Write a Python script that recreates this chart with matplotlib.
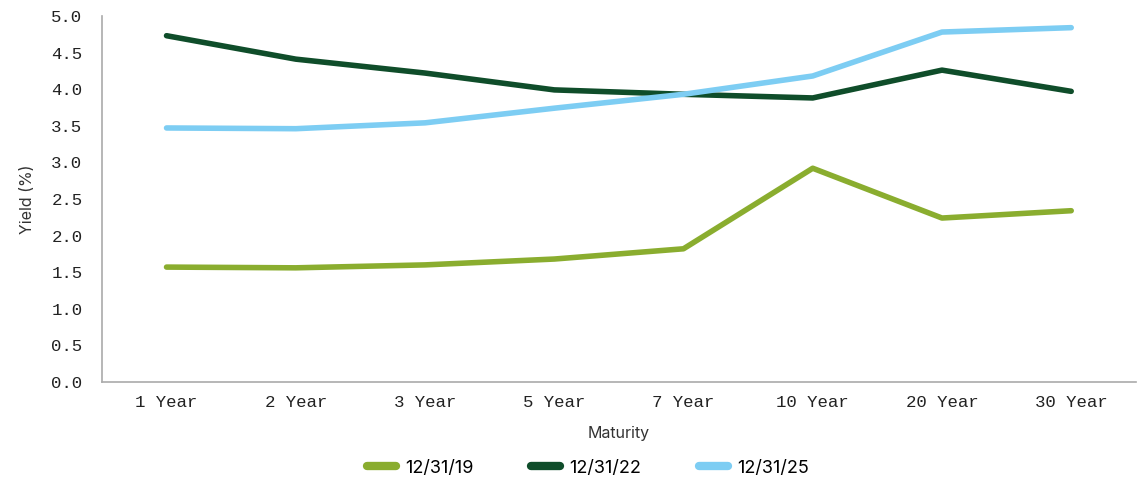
import matplotlib
matplotlib.use('Agg')
import matplotlib.pyplot as plt

maturities = ["1 Year", "2 Year", "3 Year", "5 Year", "7 Year", "10 Year", "20 Year", "30 Year"]
yield_2019 = [1.57, 1.56, 1.60, 1.68, 1.82, 2.92, 2.24, 2.34]
yield_2022 = [4.73, 4.41, 4.22, 3.99, 3.93, 3.88, 4.26, 3.97]
yield_2025 = [3.47, 3.46, 3.54, 3.74, 3.93, 4.18, 4.78, 4.84]
series_labels = ["12/31/19", "12/31/22", "12/31/25"]
colors = ["#8aad2f", "#0f4d2a", "#7dcdf3"]
y_ticks = [0.0, 0.5, 1.0, 1.5, 2.0, 2.5, 3.0, 3.5, 4.0, 4.5, 5.0]

mono = ['Liberation Mono', 'DejaVu Sans Mono']
sans = ['Inter', 'DejaVu Sans']

fig = plt.figure(figsize=(11.45, 4.83), dpi=100)
ax = fig.add_axes([0.089, 0.209, 0.903, 0.758])

x = range(len(maturities))
for vals, lab, col in zip([yield_2019, yield_2022, yield_2025], series_labels, colors):
    ax.plot(x, vals, color=col, linewidth=4.0, label=lab, solid_capstyle='round')

ax.set_xlim(-0.5, len(maturities) - 0.5)
ax.set_ylim(0, 5)
ax.set_xticks(list(x))
ax.set_xticklabels(maturities, family=mono, fontsize=12.5, color='#222222')
ax.set_yticks(y_ticks)
ax.set_yticklabels([f"{v:.1f}" for v in y_ticks], family=mono, fontsize=12.5, color='#222222')
ax.tick_params(axis='both', length=0)
ax.tick_params(axis='y', pad=14)
ax.tick_params(axis='x', pad=9)

for side in ['top', 'right']:
    ax.spines[side].set_visible(False)
for side in ['left', 'bottom']:
    ax.spines[side].set_color('#aaaaaa')
    ax.spines[side].set_linewidth(1.2)

ax.set_ylabel("Yield (%)", family=sans, fontsize=11.5, color='#333333', labelpad=12)
ax.set_xlabel("Maturity", family=sans, fontsize=11.5, color='#333333', labelpad=12)

leg = ax.legend(loc='center', bbox_to_anchor=(0.47, -0.235), ncol=3, frameon=False,
                prop={'family': sans, 'size': 13}, handlelength=1.6, columnspacing=3.2,
                handletextpad=0.5)
for line in leg.get_lines():
    line.set_linewidth(6)
    line.set_solid_capstyle('round')

plt.savefig("out.png", dpi=100)
